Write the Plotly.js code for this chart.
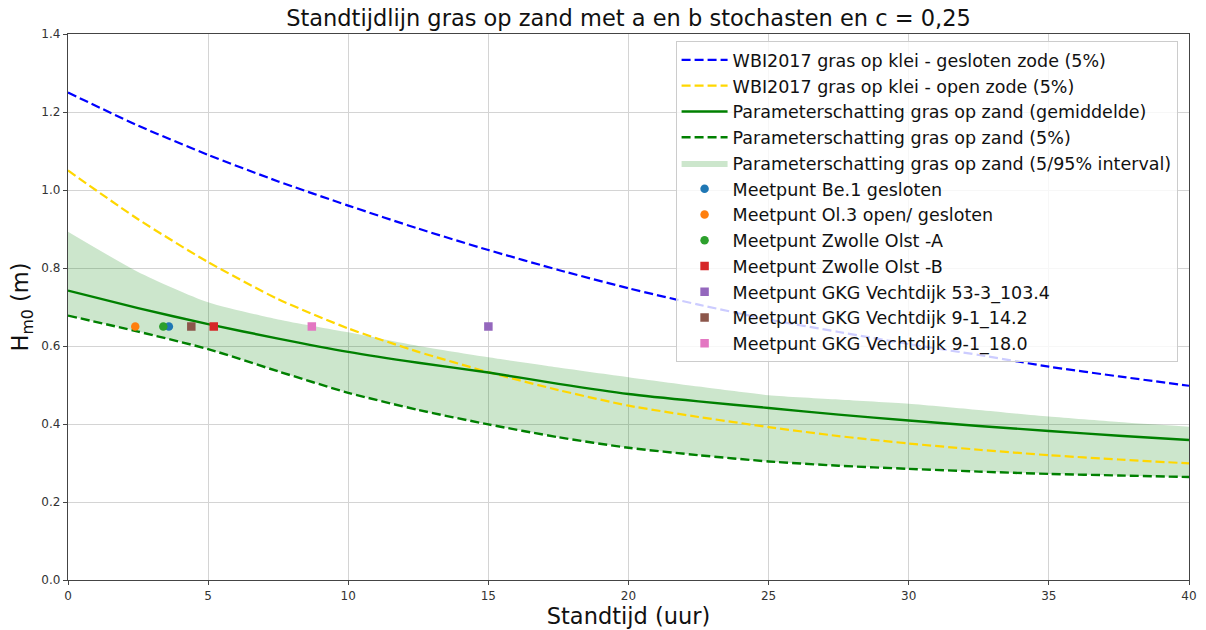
<!DOCTYPE html>
<html>
<head>
<meta charset="utf-8">
<script src="https://cdn.plot.ly/plotly-3.0.1.min.js"></script>
<style>html,body{margin:0;padding:0;background:#fff;}#chart{width:1206px;height:630px;}</style>
</head>
<body>
<div id="chart"></div>
<script>
// Standtijd (uur)
const standtijd = [0, 2.5, 5, 7.5, 10, 12.5, 15, 17.5, 20, 22.5, 25, 27.5, 30, 32.5, 35, 37.5, 40];
// WBI2017 gras op klei - gesloten zode (5%)
const wbiGesloten = [1.25, 1.165, 1.09, 1.022, 0.96, 0.901, 0.846, 0.795, 0.748, 0.706, 0.668, 0.636, 0.605, 0.577, 0.547, 0.522, 0.498];
// WBI2017 gras op klei - open zode (5%)
const wbiOpen = [1.05, 0.925, 0.815, 0.72, 0.645, 0.585, 0.533, 0.487, 0.447, 0.418, 0.392, 0.369, 0.35, 0.334, 0.32, 0.309, 0.299];
// Parameterschatting gras op zand (gemiddelde)
const zandGem = [0.742, 0.697, 0.656, 0.619, 0.585, 0.557, 0.532, 0.503, 0.477, 0.458, 0.441, 0.424, 0.409, 0.395, 0.382, 0.370, 0.359];
// Parameterschatting gras op zand (5%)
const zand5 = [0.678, 0.637, 0.592, 0.535, 0.48, 0.436, 0.399, 0.366, 0.339, 0.32, 0.304, 0.293, 0.285, 0.278, 0.272, 0.268, 0.264];
// Parameterschatting gras op zand (95%)
const zand95 = [0.893, 0.79, 0.712, 0.668, 0.635, 0.6, 0.571, 0.545, 0.52, 0.496, 0.474, 0.463, 0.452, 0.436, 0.419, 0.405, 0.393];

// Meetpunten
const meetNamen = ["Meetpunt Be.1 gesloten", "Meetpunt Ol.3 open/ gesloten", "Meetpunt Zwolle Olst -A", "Meetpunt Zwolle Olst -B", "Meetpunt GKG Vechtdijk 53-3_103.4", "Meetpunt GKG Vechtdijk 9-1_14.2", "Meetpunt GKG Vechtdijk 9-1_18.0"];
const meetT = [3.6, 2.4, 3.4, 5.2, 15.0, 4.4, 8.7];
const meetH = [0.65, 0.65, 0.65, 0.65, 0.65, 0.65, 0.65];
const meetSymbool = ["circle", "circle", "circle", "square", "square", "square", "square"];
const meetKleur = ["#1f77b4", "#ff7f0e", "#2ca02c", "#d62728", "#9467bd", "#8c564b", "#e377c2"];

const traces = [];
// band (lower invisible, upper filled)
traces.push({x: standtijd, y: zand5, mode: 'lines', line: {width: 0, color: 'rgba(0,0,0,0)', shape: 'spline', smoothing: 0.6}, showlegend: false, hoverinfo: 'skip', legendgroup: 'gb'});
traces.push({x: standtijd, y: zand95, mode: 'lines', fill: 'tonexty', fillcolor: 'rgba(0,128,0,0.2)', line: {width: 0, color: 'rgba(0,128,0,0.2)', shape: 'spline', smoothing: 0.6}, name: 'Parameterschatting gras op zand (5/95% interval)', legendgroup: 'g5', legendrank: 5});
traces.push({x: standtijd, y: wbiGesloten, mode: 'lines', line: {color: '#0000ff', width: 2.2, dash: '9px,4px', shape: 'spline', smoothing: 0.6}, name: 'WBI2017 gras op klei - gesloten zode (5%)', legendgroup: 'g1', legendrank: 1});
traces.push({x: standtijd, y: wbiOpen, mode: 'lines', line: {color: '#ffd700', width: 2.2, dash: '9px,4px', shape: 'spline', smoothing: 0.6}, name: 'WBI2017 gras op klei - open zode (5%)', legendgroup: 'g2', legendrank: 2});
traces.push({x: standtijd, y: zandGem, mode: 'lines', line: {color: '#008000', width: 2.4, shape: 'spline', smoothing: 0.6}, name: 'Parameterschatting gras op zand (gemiddelde)', legendgroup: 'g3', legendrank: 3});
traces.push({x: standtijd, y: zand5, mode: 'lines', line: {color: '#008000', width: 2.4, dash: '9px,4px', shape: 'spline', smoothing: 0.6}, name: 'Parameterschatting gras op zand (5%)', legendgroup: 'g4', legendrank: 4});
for (let i = 0; i < meetNamen.length; i++) {
  traces.push({x: [meetT[i]], y: [meetH[i]], mode: 'markers', marker: {symbol: meetSymbool[i], color: meetKleur[i], size: 8.5}, name: meetNamen[i], legendgroup: 'm' + i, legendrank: 6 + i});
}

const font = 'DejaVu Sans, sans-serif';
const layout = {
  width: 1206, height: 630,
  margin: {l: 68, r: 17, t: 34, b: 50},
  paper_bgcolor: '#fff', plot_bgcolor: '#fff',
  font: {family: font, color: '#222'},
  title: {text: 'Standtijdlijn gras op zand met a en b stochasten en c = 0,25', font: {family: font, size: 22.5, color: '#111'}, xref: 'paper', x: 0.5, xanchor: 'center', y: 0.971, yanchor: 'middle'},
  xaxis: {
    range: [0, 40], tickvals: [0, 5, 10, 15, 20, 25, 30, 35, 40], ticktext: ['0','5','10','15','20','25','30','35','40'],
    showgrid: true, gridcolor: '#d4d4d4', gridwidth: 1, zeroline: false,
    showline: true, linecolor: '#444', linewidth: 1.2, mirror: true,
    ticks: 'outside', ticklen: 4, tickcolor: '#444', tickfont: {family: font, size: 12, color: '#333'},
    title: {text: 'Standtijd (uur)', font: {family: font, size: 22.5, color: '#111'}, standoff: 4}
  },
  yaxis: {
    range: [0, 1.4], tickvals: [0, 0.2, 0.4, 0.6, 0.8, 1.0, 1.2, 1.4], ticktext: ['0.0','0.2','0.4','0.6','0.8','1.0','1.2','1.4'],
    showgrid: true, gridcolor: '#d4d4d4', gridwidth: 1, zeroline: false,
    showline: true, linecolor: '#444', linewidth: 1.2, mirror: true,
    ticks: 'outside', ticklen: 4, tickcolor: '#444', tickfont: {family: font, size: 12, color: '#333'},
    title: {text: 'H<sub>m0</sub> (m)', font: {family: font, size: 22.5, color: '#111'}, standoff: 6}
  },
  legend: {
    x: 0.542, xanchor: 'left', y: 0.987, yanchor: 'top',
    bgcolor: 'rgba(255,255,255,0.8)', bordercolor: '#cccccc', borderwidth: 1,
    font: {family: font, size: 17.5, color: '#111'},
    traceorder: 'grouped', tracegroupgap: 0, itemwidth: 46
  },
  showlegend: true
};

Plotly.newPlot('chart', traces, layout, {displayModeBar: false, staticPlot: true});
</script>
</body>
</html>
